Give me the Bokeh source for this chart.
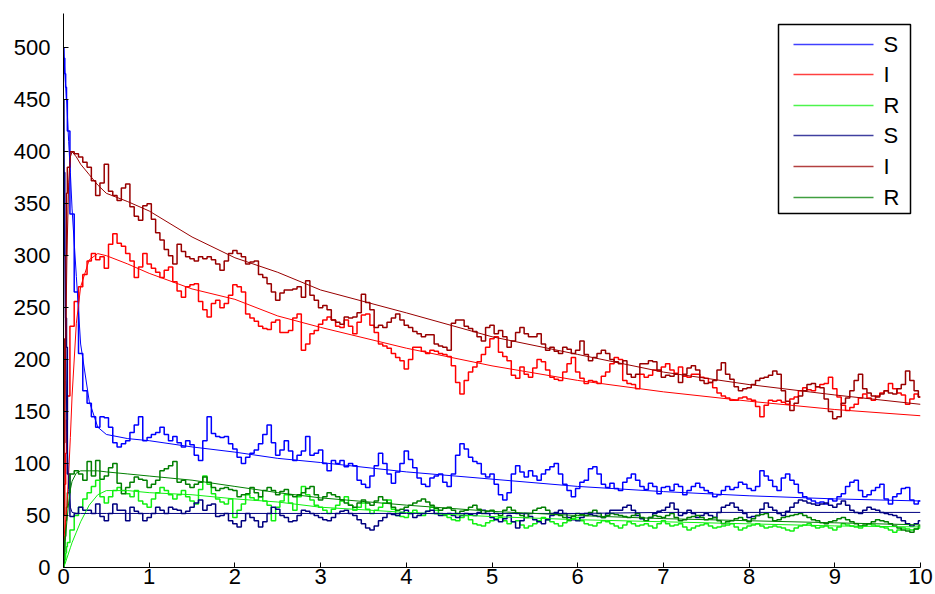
from bokeh.plotting import figure
from bokeh.models import Range1d, FixedTicker, BoxAnnotation, Label
from bokeh.embed import file_html
from bokeh.resources import INLINE

# ---------------- data ----------------
x_ticks = [0, 1, 2, 3, 4, 5, 6, 7, 8, 9, 10]
y_ticks = [0, 50, 100, 150, 200, 250, 300, 350, 400, 450, 500]

# time grid of the stochastic runs: a few early samples, then every 0.05
t_early = [0, 0.01, 0.02, 0.03, 0.04]
t_main = [round(0.05 * k, 2) for k in range(1, 201)]
t_noisy = t_early + t_main

# stochastic runs (one row per unit of time: t = i+0.05 ... i+1.0)
S1_noisy = [500, 490, 475, 462, 450,
    420, 340, 265, 206, 170, 158, 145, 135, 145, 144, 135, 120, 116, 119, 122, 130, 137, 145, 122, 125,
    128, 130, 135, 128, 122, 126, 120, 116, 122, 118, 108, 103, 122, 145, 129, 126, 125, 126, 119, 114,
    106, 100, 106, 110, 113, 119, 128, 137, 120, 108, 113, 122, 112, 103, 108, 112, 126, 108, 110, 113,
    100, 93, 103, 100, 103, 97, 100, 98, 84, 80, 77, 88, 98, 110, 100, 90, 81, 92, 100, 112,
    104, 96, 86, 80, 78, 86, 88, 90, 82, 78, 90, 108, 119, 114, 106, 102, 100, 90, 87, 90,
    80, 70, 65, 72, 90, 98, 92, 87, 93, 88, 84, 90, 94, 97, 100, 90, 80, 74, 68, 76,
    82, 84, 95, 97, 90, 80, 77, 81, 76, 74, 82, 86, 90, 84, 78, 75, 81, 78, 71, 77,
    78, 74, 80, 78, 70, 74, 78, 81, 77, 74, 72, 68, 70, 74, 78, 75, 77, 82, 80, 76,
    74, 78, 93, 88, 84, 78, 74, 86, 90, 84, 80, 72, 68, 66, 64, 62, 63, 61, 66, 64,
    68, 71, 78, 82, 84, 74, 68, 70, 74, 77, 80, 66, 61, 68, 71, 76, 77, 65, 61, 64]
I1_noisy = [25, 50, 80, 110, 142,
    165, 232, 256, 270, 282, 295, 302, 296, 299, 288, 311, 321, 312, 309, 302, 295, 279, 289, 302, 292,
    288, 284, 279, 286, 289, 275, 266, 260, 270, 272, 273, 256, 248, 241, 254, 257, 250, 254, 262, 272,
    270, 265, 244, 240, 237, 232, 230, 229, 236, 238, 226, 226, 228, 240, 244, 209, 215, 225, 228, 234,
    238, 241, 238, 232, 231, 238, 232, 225, 236, 243, 244, 233, 226, 215, 213, 211, 206, 202, 199, 191,
    200, 212, 212, 208, 206, 209, 208, 206, 205, 203, 194, 178, 167, 180, 188, 193, 198, 205, 212, 220,
    222, 207, 203, 199, 185, 182, 193, 186, 183, 192, 200, 198, 190, 183, 181, 180, 188, 196, 202, 188,
    182, 177, 180, 179, 177, 184, 188, 196, 202, 200, 180, 177, 176, 172, 186, 183, 185, 190, 189, 193,
    196, 190, 187, 193, 184, 183, 186, 186, 183, 182, 178, 173, 168, 165, 163, 161, 161, 163, 164, 162,
    161, 155, 145, 156, 161, 160, 161, 159, 157, 162, 164, 170, 173, 171, 170, 174, 176, 177, 183, 172,
    164, 156, 151, 154, 157, 163, 167, 163, 161, 165, 168, 170, 177, 172, 168, 166, 157, 162, 167, 164]
R1_noisy = [0, 4, 8, 14, 20,
    24, 36, 50, 58, 66, 72, 78, 84, 68, 62, 68, 74, 77, 74, 71, 68, 74, 64, 61, 58,
    66, 72, 77, 74, 70, 66, 70, 74, 68, 64, 61, 75, 88, 80, 71, 66, 63, 61, 66, 48,
    55, 61, 70, 67, 65, 68, 64, 60, 45, 58, 64, 70, 62, 55, 68, 78, 70, 65, 60, 58,
    55, 52, 56, 60, 64, 68, 60, 55, 58, 62, 56, 52, 55, 58, 62, 65, 56, 50, 49, 48,
    52, 55, 52, 50, 54, 58, 55, 52, 50, 48, 46, 45, 48, 50, 46, 42, 41, 40, 43, 45,
    47, 48, 45, 42, 44, 45, 41, 38, 40, 42, 45, 48, 46, 44, 42, 40, 43, 45, 47, 48,
    45, 42, 41, 40, 43, 45, 44, 42, 40, 38, 41, 44, 42, 40, 41, 42, 40, 38, 42, 45,
    42, 40, 41, 42, 39, 36, 38, 40, 41, 42, 40, 38, 39, 40, 41, 42, 39, 36, 38, 40,
    41, 42, 40, 38, 39, 40, 39, 38, 36, 35, 38, 40, 41, 42, 40, 38, 39, 40, 38, 36,
    39, 42, 41, 40, 39, 38, 40, 42, 41, 40, 39, 38, 36, 34, 36, 38, 37, 36, 37, 38]
S2_noisy = [450, 380, 300, 240, 212,
    90, 49, 52, 58, 55, 55, 52, 61, 49, 45, 52, 61, 55, 55, 45, 58, 54, 52, 45, 48,
    52, 58, 55, 52, 58, 56, 55, 52, 54, 58, 62, 65, 55, 60, 61, 49, 50, 52, 45, 42,
    39, 45, 52, 48, 45, 39, 44, 52, 58, 56, 50, 48, 44, 45, 50, 55, 54, 52, 50, 48,
    46, 45, 48, 52, 54, 55, 52, 50, 46, 42, 38, 36, 40, 45, 48, 52, 51, 50, 53, 55,
    52, 48, 50, 52, 54, 55, 52, 50, 51, 52, 50, 48, 50, 52, 51, 50, 53, 55, 52, 48,
    46, 44, 47, 50, 44, 38, 45, 52, 49, 46, 44, 42, 46, 50, 53, 55, 52, 48, 46, 45,
    48, 52, 51, 50, 49, 48, 52, 55, 55, 55, 58, 60, 55, 50, 47, 45, 48, 52, 54, 55,
    58, 62, 56, 50, 52, 55, 52, 48, 50, 52, 50, 48, 53, 58, 60, 62, 58, 55, 52, 48,
    49, 50, 56, 62, 58, 55, 52, 50, 54, 58, 62, 65, 64, 62, 61, 60, 61, 62, 60, 58,
    61, 64, 60, 55, 53, 52, 55, 58, 56, 55, 53, 52, 51, 50, 48, 45, 42, 40, 42, 45]
I2_noisy = [50, 120, 220, 300, 360,
    385, 400, 398, 395, 390, 385, 372, 358, 370, 388, 362, 358, 353, 365, 369, 347, 338, 334, 348, 350,
    335, 322, 315, 306, 300, 292, 311, 304, 299, 297, 295, 299, 297, 299, 296, 292, 286, 295, 302, 305,
    302, 299, 292, 294, 295, 282, 279, 273, 265, 257, 264, 267, 267, 268, 270, 260, 276, 262, 257, 250,
    252, 248, 238, 236, 234, 241, 240, 241, 245, 263, 255, 248, 231, 233, 231, 236, 240, 244, 238, 233,
    231, 227, 225, 222, 224, 224, 215, 213, 212, 209, 235, 238, 238, 232, 230, 227, 222, 218, 231, 233,
    225, 228, 222, 212, 218, 226, 231, 225, 222, 222, 225, 215, 209, 212, 208, 206, 212, 210, 206, 209,
    218, 205, 199, 202, 206, 209, 206, 200, 198, 196, 199, 186, 183, 186, 196, 196, 199, 198, 190, 183,
    185, 184, 186, 178, 186, 192, 194, 190, 180, 177, 178, 180, 190, 197, 186, 181, 174, 170, 172, 173,
    176, 180, 182, 183, 185, 189, 186, 170, 160, 151, 158, 165, 170, 176, 177, 174, 173, 162, 150, 143,
    145, 158, 163, 170, 180, 186, 172, 168, 165, 164, 167, 170, 168, 167, 172, 176, 189, 180, 170, 164]
R2_noisy = [0, 15, 30, 45, 58,
    72, 90, 93, 90, 84, 102, 88, 103, 85, 88, 96, 100, 81, 71, 77, 82, 87, 85, 84, 77,
    80, 84, 93, 95, 98, 102, 82, 84, 80, 77, 80, 82, 87, 82, 77, 74, 76, 77, 75, 74,
    68, 70, 71, 77, 72, 68, 74, 77, 74, 70, 73, 75, 70, 68, 70, 72, 76, 78, 70, 65,
    68, 72, 70, 68, 65, 62, 60, 58, 62, 65, 62, 60, 64, 68, 65, 62, 58, 55, 56, 58,
    60, 62, 64, 66, 63, 60, 57, 55, 57, 58, 55, 52, 54, 55, 58, 60, 56, 52, 54, 55,
    52, 50, 55, 58, 55, 52, 50, 48, 52, 55, 57, 58, 55, 52, 51, 50, 48, 46, 49, 52,
    51, 50, 53, 55, 52, 48, 50, 52, 51, 50, 49, 48, 50, 52, 48, 45, 48, 50, 49, 48,
    50, 52, 48, 45, 46, 48, 49, 50, 48, 46, 47, 48, 45, 42, 44, 45, 47, 48, 46, 44,
    47, 50, 51, 52, 48, 45, 46, 48, 49, 50, 51, 52, 50, 48, 46, 45, 43, 42, 44, 45,
    47, 48, 46, 44, 42, 40, 41, 42, 44, 46, 45, 44, 42, 40, 38, 36, 35, 34, 37, 40]

# deterministic curves
t_smooth = [0, 0.02, 0.04, 0.06, 0.08, 0.1, 0.15, 0.2, 0.3, 0.4, 0.5, 0.75,
            1, 1.5, 2, 2.5, 3, 4, 5, 6, 7, 8, 9, 10]
S1_smooth = [500, 470, 445, 410, 380, 345, 280, 215, 160, 135, 128, 124,
             122, 116, 111, 105, 101, 92, 85, 78, 73, 69, 66, 64]
I1_smooth = [25, 40, 60, 90, 125, 165, 235, 270, 296, 302, 300, 292,
             283, 268, 258, 242, 231, 211, 194, 180, 169, 160, 152, 146]
R1_smooth = [0, 4, 9, 14, 19, 24, 34, 44, 60, 70, 74, 74,
             72, 70, 66, 63, 58, 53, 49, 46, 44, 42, 40, 39]
S2_smooth = [450, 250, 130, 75, 58, 53, 52, 52, 52, 52, 52, 52,
             52, 52, 52, 52, 52, 52, 52, 52, 53, 53, 53, 53]
I2_smooth = [50, 180, 300, 370, 395, 400, 395, 388, 378, 368, 360, 352,
             343, 318, 298, 284, 267, 245, 222, 205, 188, 176, 166, 157]
R2_smooth = [0, 25, 45, 62, 75, 83, 91, 93, 93, 93, 92, 90,
             88, 84, 78, 72, 67, 60, 54, 50, 47, 45, 43, 41]

labels = ["S", "I", "R", "S", "I", "R"]
colors = ["#0000FF", "#FF0000", "#10F010", "#000080", "#990000", "#007F00"]
noisy = [S1_noisy, I1_noisy, R1_noisy, S2_noisy, I2_noisy, R2_noisy]
smooth = [S1_smooth, I1_smooth, R1_smooth, S2_smooth, I2_smooth, R2_smooth]

for s in noisy:
    assert len(s) == len(t_noisy), len(s)
for s in smooth:
    assert len(s) == len(t_smooth), len(s)

# ---------------- figure ----------------
FONT = "Liberation Sans"
p = figure(width=935, height=594, x_range=Range1d(0, 10), y_range=Range1d(0, 533),
           output_backend="svg", toolbar_location=None,
           min_border_left=63, min_border_right=15, min_border_top=13, min_border_bottom=27)
p.outline_line_color = None
p.grid.visible = False
p.background_fill_color = "white"

for ax in (p.xaxis[0], p.yaxis[0]):
    ax.axis_line_color = "black"
    ax.axis_line_width = 1
    ax.major_tick_in = 5
    ax.major_tick_out = 0
    ax.major_tick_line_color = "black"
    ax.minor_tick_line_color = None
    ax.major_label_text_font = FONT
    ax.major_label_text_font_size = "22px"
    ax.major_label_text_color = "black"
p.xaxis.ticker = FixedTicker(ticks=x_ticks)
p.yaxis.ticker = FixedTicker(ticks=y_ticks)
p.xaxis.major_label_standoff = 1
p.yaxis.major_label_standoff = 13

for vals, col in zip(noisy, colors):
    p.step(t_noisy, vals, line_color=col, line_width=1.5, mode="center")

for vals, col in zip(smooth, colors):
    p.line(t_smooth, vals, line_color=col, line_width=1)

# ---------------- legend (drawn in screen pixels, frame-relative) ----------------
box = BoxAnnotation(left=715, right=847, bottom=354, top=543,
                    left_units="screen", right_units="screen",
                    bottom_units="screen", top_units="screen",
                    fill_color="white", fill_alpha=1,
                    line_color="black", line_width=1.5, line_alpha=1)
p.add_layout(box)
row_y = [523, 493, 462, 432, 401, 370]
for lab, col, yy in zip(labels, colors, row_y):
    p.add_layout(BoxAnnotation(left=730, right=810, bottom=yy - 0.8, top=yy + 0.8,
                               left_units="screen", right_units="screen",
                               bottom_units="screen", top_units="screen",
                               fill_color=col, fill_alpha=0.75, line_color=None))
    p.add_layout(Label(x=820, y=yy, x_units="screen", y_units="screen", text=lab,
                       text_font=FONT, text_font_size="22px", text_color="black",
                       text_baseline="middle", text_align="left"))

open("out.html", "w").write(file_html(p, INLINE))
